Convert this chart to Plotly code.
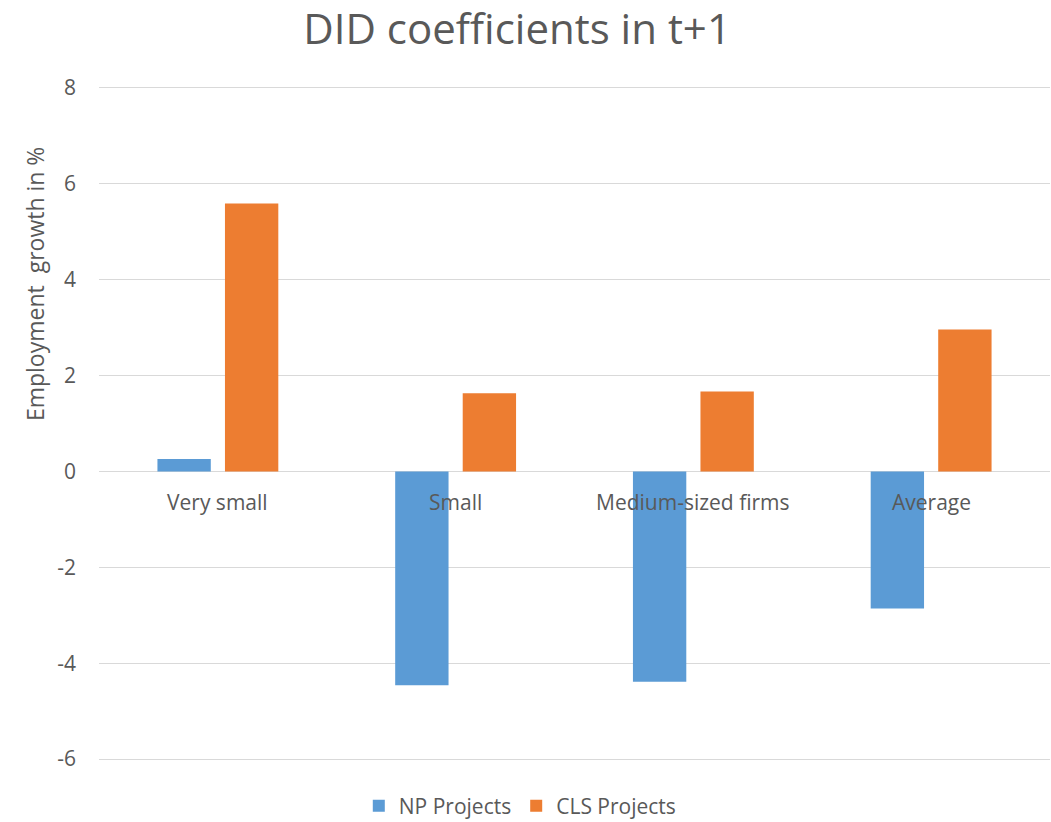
import plotly.graph_objects as go

categories = ["Very small", "Small", "Medium-sized firms", "Average"]
np_projects = [0.26, -4.46, -4.39, -2.86]
cls_projects = [5.59, 1.63, 1.67, 2.96]
y_ticks = [-6, -4, -2, 0, 2, 4, 6, 8]
y_tick_labels = ["-6", "-4", "-2", "0", "2", "4", "6", "8"]

TEXT = "#595959"
GRID = "#d9d9d9"
FONT = "Open Sans"

fig = go.Figure()
fig.add_trace(go.Bar(name="NP Projects", x=categories, y=np_projects,
                     marker=dict(color="#5B9BD5", line=dict(width=0))))
fig.add_trace(go.Bar(name="CLS Projects", x=categories, y=cls_projects,
                     marker=dict(color="#ED7D31", line=dict(width=0))))

# category labels sit just under the zero line
for c in categories:
    fig.add_annotation(x=c, y=0, xref="x", yref="y", text=c, showarrow=False,
                       yanchor="middle", yshift=-31,
                       font=dict(family=FONT, size=21, color=TEXT))

fig.add_annotation(text="Employment\u00a0 growth in %", xref="paper", yref="paper",
                   x=-0.0673, y=0.702, textangle=-90, showarrow=False,
                   xanchor="center", yanchor="middle",
                   font=dict(family=FONT, size=23, color=TEXT))

fig.update_layout(
    width=1051, height=822,
    margin=dict(l=99, r=1, t=76, b=51, autoexpand=False),
    paper_bgcolor="white", plot_bgcolor="white",
    barmode="group", bargap=0.432, bargroupgap=0.21,
    title=dict(text="DID coefficients in t+1", x=0.492, xref="container",
               y=0.964, yref="container", xanchor="center", yanchor="middle",
               font=dict(family=FONT, size=42, color=TEXT)),
    xaxis=dict(showticklabels=False, showgrid=False, zeroline=False,
               showline=False, ticks=""),
    yaxis=dict(range=[-6.25, 8.25], tickvals=y_ticks, ticktext=y_tick_labels,
               showgrid=True, gridcolor=GRID, gridwidth=1,
               zeroline=True, zerolinecolor=GRID, zerolinewidth=1,
               showline=False, ticks="", ticklabelstandoff=22,
               tickfont=dict(family=FONT, size=21, color=TEXT)),
    legend=dict(orientation="h", x=0.443, xanchor="center", y=-0.0504,
                yanchor="middle", font=dict(family=FONT, size=21, color=TEXT),
                traceorder="normal", itemwidth=30, borderwidth=0),
    showlegend=True,
)

fig.write_html("out.html")
